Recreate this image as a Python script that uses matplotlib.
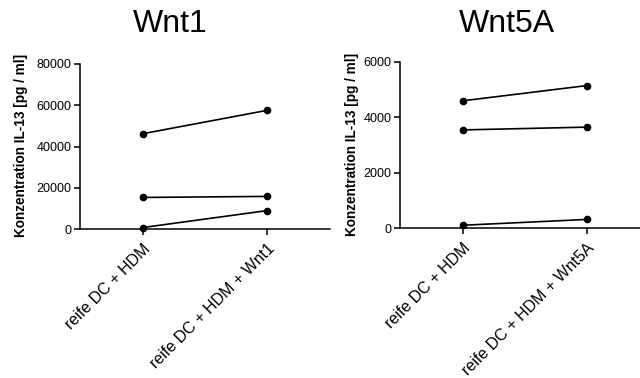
import matplotlib
matplotlib.use("Agg")
import matplotlib.pyplot as plt

plt.rcParams['font.family'] = ['Liberation Sans', 'DejaVu Sans']

W, H = 640, 378

# Data: paired donors, IL-13 concentration
wnt1_labels = ["reife DC + HDM", "reife DC + HDM + Wnt1"]
wnt1_donors = [
    [46200, 57500],
    [15300, 15800],
    [700, 8900],
]
wnt5a_labels = ["reife DC + HDM", "reife DC + HDM + Wnt5A"]
wnt5a_donors = [
    [4600, 5150],
    [3550, 3650],
    [110, 320],
]
wnt1_yticks = [0, 20000, 40000, 60000, 80000]
wnt5a_yticks = [0, 2000, 4000, 6000]
ylabel = "Konzentration IL-13 [pg / ml]"

fig = plt.figure(figsize=(W / 100, H / 100), dpi=100)


def px_axes(x0, x1, y_top, y_bot):
    return fig.add_axes([x0 / W, (H - y_bot) / H, (x1 - x0) / W, (y_bot - y_top) / H])


def style(ax, labels, donors, yticks, xmax):
    for d in donors:
        ax.plot(range(len(d)), d, color='black', lw=1.2, marker='o', ms=4.5,
                mec='black', mfc='black', clip_on=False, zorder=3)
    ax.set_xlim(-0.506, xmax)
    ax.set_ylim(yticks[0], yticks[-1])
    ax.set_yticks(yticks)
    ax.set_yticklabels([str(t) for t in yticks], fontsize=9)
    ax.set_xticks(range(len(labels)))
    ax.set_xticklabels(labels, rotation=45, ha='right', va='top',
                       rotation_mode='anchor', fontsize=11.5)
    for s in ['top', 'right']:
        ax.spines[s].set_visible(False)
    for s in ['left', 'bottom']:
        ax.spines[s].set_linewidth(1.1)
    ax.tick_params(axis='both', direction='out', length=4, width=1.1, pad=2)
    ax.tick_params(axis='x', pad=5)


ax1 = px_axes(80, 330, 64, 229)
style(ax1, wnt1_labels, wnt1_donors, wnt1_yticks, 1.51)
ax2 = px_axes(400, 662, 62, 228.3)
style(ax2, wnt5a_labels, wnt5a_donors, wnt5a_yticks, 1.605)

fig.text(170.5 / W, 1 - 24 / H, "Wnt1", fontsize=23, ha='center', va='center')
fig.text(507 / W, 1 - 24 / H, "Wnt5A", fontsize=23, ha='center', va='center')

fig.text(21.5 / W, 1 - 145 / H, ylabel, rotation=90, fontsize=9.8,
         fontweight='bold', ha='center', va='center')
fig.text(352 / W, 1 - 144.7 / H, ylabel, rotation=90, fontsize=9.8,
         fontweight='bold', ha='center', va='center')

fig.savefig("out.png", dpi=100)
